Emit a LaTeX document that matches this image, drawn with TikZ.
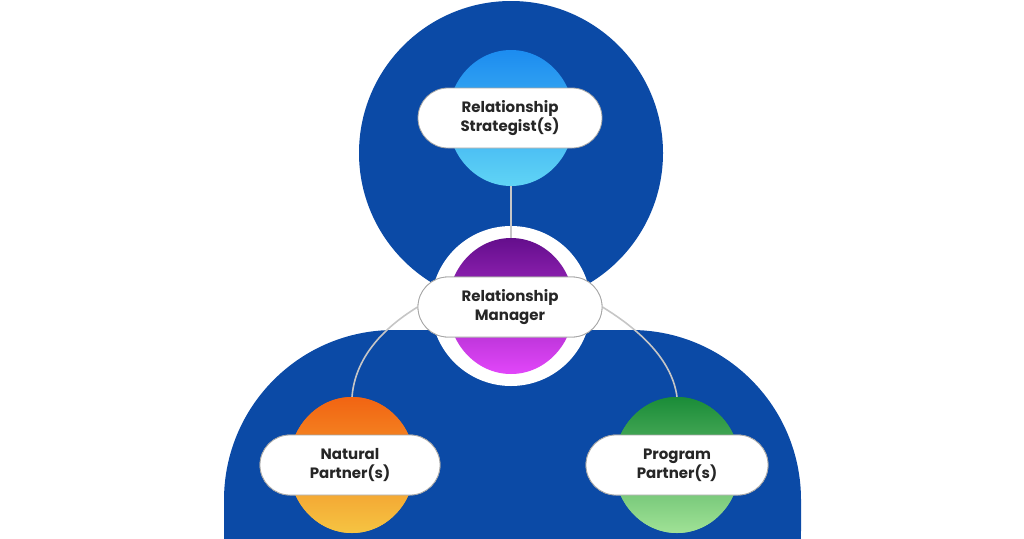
\documentclass[tikz,border=0pt]{standalone}
\usepackage{fontspec}
\setmainfont{Poppins}
\begin{document}
\begin{tikzpicture}[x=1pt,y=-1pt,
  pill/.style={draw=gray!70,line width=0.8pt,fill=white,rounded corners=30pt,minimum width=184pt,minimum height=60pt,align=center,font=\fontsize{15}{19}\selectfont\bfseries,text=black!85},
  ball/.style={ellipse,minimum width=126pt,minimum height=136pt,inner sep=0pt},
  link/.style={draw=gray!45,line width=1.6pt}]
\useasboundingbox (0,0) rectangle (1024,538);
\clip (0,0) rectangle (1024,538);
\definecolor{navy}{HTML}{0B4AA6}
\fill[navy] (511,153) circle (152pt);
\fill[navy,rounded corners=170pt] (224,700) -- (224,330) -- (801,330) -- (801,700) -- cycle;
\fill[white] (511,306) circle (80pt);
\usetikzlibrary{shapes.geometric}
\node[ball,top color={rgb,255:red,28;green,140;blue,240},bottom color={rgb,255:red,96;green,212;blue,245}] (rsc) at (511,118) {};
\node[ball,top color={rgb,255:red,100;green,14;blue,140},bottom color={rgb,255:red,226;green,70;blue,250}] (rmc) at (511,306) {};
\node[ball,top color={rgb,255:red,242;green,100;blue,18},bottom color={rgb,255:red,245;green,196;blue,66}] (npc) at (352,465) {};
\node[ball,top color={rgb,255:red,26;green,140;blue,56},bottom color={rgb,255:red,160;green,226;blue,150}] (ppc) at (677,465) {};
\node[pill] (rs) at (510,118) {Relationship\\Strategist(s)};
\node[pill] (rm) at (510,307) {Relationship\\Manager};
\node[pill,minimum width=180pt] (np) at (350,465) {Natural\\Partner(s)};
\node[pill,minimum width=182pt] (pp) at (677,465) {Program\\Partner(s)};
\begin{scope}[on background layer/.style={}]
\end{scope}
\draw[link] (rsc.south) -- (rmc.north);
\draw[link] (rm.west) .. controls (380,330) and (355,360) .. (npc.north);
\draw[link] (rm.east) .. controls (640,330) and (672,360) .. (ppc.north);
\node[ball,top color={rgb,255:red,242;green,100;blue,18},bottom color={rgb,255:red,245;green,196;blue,66}] at (352,465) {};
\node[ball,top color={rgb,255:red,26;green,140;blue,56},bottom color={rgb,255:red,160;green,226;blue,150}] at (677,465) {};
\node[pill] at (510,307) {Relationship\\Manager};
\node[pill,minimum width=180pt] at (350,465) {Natural\\Partner(s)};
\node[pill,minimum width=182pt] at (677,465) {Program\\Partner(s)};
\end{tikzpicture}
\end{document}
